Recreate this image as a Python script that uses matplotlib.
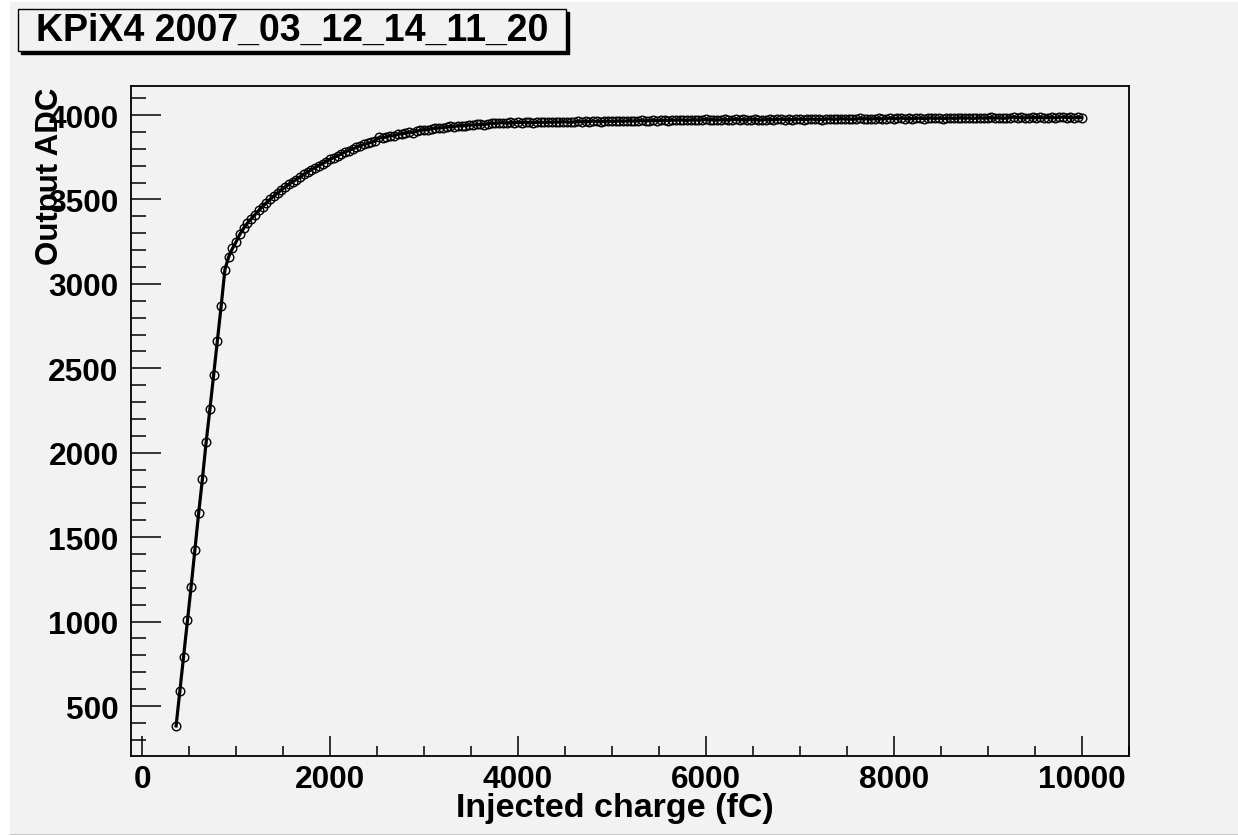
import numpy as np
import matplotlib
matplotlib.use('Agg')
import matplotlib.pyplot as plt
from matplotlib.patches import Rectangle
from matplotlib.ticker import MultipleLocator

plt.rcParams['font.family'] = ['Liberation Sans', 'DejaVu Sans']
plt.rcParams['font.weight'] = 'bold'

W, H = 1238, 837

# injected charge sweep (fC): 360 .. 10000 in 40 fC steps
charge_start, charge_stop, charge_step = 360, 10000, 40

# output ADC
adc_rise = [382, 589, 793, 1008, 1207, 1426, 1641, 1843, 2063, 2258,
            2460, 2660, 2870]
adc_knee = [3085, 3160, 3210, 3250, 3295, 3330, 3360, 3385, 3410, 3435,
            3458, 3480, 3500, 3520, 3538, 3556, 3574, 3590, 3604, 3618,
            3633, 3648, 3662, 3676, 3688, 3700, 3712, 3724, 3738, 3748,
            3758, 3770, 3781, 3790, 3800, 3808, 3818, 3826, 3832, 3840,
            3846, 3868, 3864, 3872, 3878, 3876, 3886, 3890, 3893, 3900,
            3896, 3905, 3910, 3914, 3912, 3920, 3922, 3925, 3924, 3930,
            3933, 3932, 3936, 3938, 3937, 3942, 3940, 3944, 3946, 3943,
            3948, 3953, 3951, 3954]
adc_plateau = [3955, 3952, 3956, 3954, 3957, 3955, 3958, 3956, 3954, 3957,
               3958, 3956, 3959, 3957, 3960, 3958, 3961, 3959, 3957, 3960,
               3962, 3960, 3963, 3961, 3964, 3962, 3960, 3963, 3965, 3962,
               3964, 3966, 3963, 3965, 3967, 3964, 3966, 3968, 3965, 3967,
               3969, 3966, 3968, 3970, 3967, 3971, 3969, 3972, 3970, 3968,
               3971, 3973, 3970, 3972, 3974, 3971, 3973, 3970, 3972, 3974,
               3971, 3973, 3975, 3972, 3974, 3971, 3973, 3975, 3972, 3970,
               3973, 3975, 3972, 3974, 3976, 3973, 3975, 3972, 3974, 3976,
               3973, 3975, 3977, 3974, 3976, 3973, 3975, 3978, 3975, 3977,
               3979, 3976, 3978, 3975, 3977, 3980, 3977, 3979, 3976, 3978,
               3980, 3977, 3979, 3982, 3978, 3980, 3983, 3979, 3981, 3978,
               3980, 3982, 3979, 3981, 3984, 3980, 3982, 3979, 3981, 3983,
               3980, 3982, 3985, 3981, 3983, 3980, 3982, 3984, 3981, 3983,
               3986, 3982, 3984, 3981, 3983, 3985, 3988, 3984, 3986, 3983,
               3985, 3987, 3984, 3986, 3983, 3985, 3987, 3984, 3986, 3988,
               3985, 3987, 3984, 3986, 3985]

charge = np.arange(charge_start, charge_stop + 1, charge_step)
adc = np.array(adc_rise + adc_knee + adc_plateau)

title_text = 'KPiX4 2007_03_12_14_11_20'
xlabel_text = 'Injected charge (fC)'
ylabel_text = 'Output ADC'

bg = '#f2f2f2'

fig = plt.figure(figsize=(W / 100, H / 100), dpi=100, facecolor='white')

# canvas background (ROOT pad)
fig.patches.append(Rectangle((10 / W, 1 - 835 / H), 1 - 10 / W, (835 - 3) / H,
                             transform=fig.transFigure, facecolor=bg,
                             edgecolor='none', zorder=-10))
fig.patches.append(Rectangle((10 / W, 1 - 836 / H), 1 - 10 / W, 1.5 / H,
                             transform=fig.transFigure, facecolor='#c8c8c8',
                             edgecolor='none', zorder=-9))

ax = fig.add_axes([131 / W, 1 - 757 / H, (1129 - 131) / W, (757 - 87) / H])
ax.set_facecolor(bg)

ax.plot(charge, adc, color='black', lw=2.3, marker='o', ms=6.2, mfc='none',
        mec='black', mew=1.0)

ax.set_xlim(-120, 10505)
ax.set_ylim(204, 4172)

ax.xaxis.set_major_locator(MultipleLocator(2000))
ax.xaxis.set_minor_locator(MultipleLocator(500))
ax.yaxis.set_major_locator(MultipleLocator(500))
ax.yaxis.set_minor_locator(MultipleLocator(100))

ax.tick_params(axis='both', which='both', direction='in', width=1.1,
               labelsize=22.8, top=False, right=False)
ax.tick_params(axis='y', which='major', length=21.6, pad=9)
ax.tick_params(axis='y', which='minor', length=10.8)
ax.tick_params(axis='x', which='major', length=14.4, pad=6)
ax.tick_params(axis='x', which='minor', length=7.2)
for lab in ax.get_xticklabels() + ax.get_yticklabels():
    lab.set_fontweight('bold')

for s in ax.spines.values():
    s.set_linewidth(1.3)

# axis titles
fig.text(615 / W, 1 - 809 / H, xlabel_text, fontsize=24.5, fontweight='bold',
         ha='center', va='center')
fig.text(50 / W, 1 - 88 / H, ylabel_text, fontsize=22.5, fontweight='bold',
         rotation=90, ha='center', va='top')

# title box with shadow
bx0, by0, bx1, by1 = 18, 10, 566, 52
fig.patches.append(Rectangle(((bx0 + 3) / W, 1 - (by1 + 3) / H),
                             (bx1 - bx0) / W, (by1 - by0) / H,
                             transform=fig.transFigure, facecolor='black',
                             edgecolor='black', zorder=1))
fig.patches.append(Rectangle((bx0 / W, 1 - by1 / H),
                             (bx1 - bx0) / W, (by1 - by0) / H,
                             transform=fig.transFigure, facecolor=bg,
                             edgecolor='black', lw=1.0, zorder=2))
fig.text((bx0 + bx1) / 2 / W, 1 - 31 / H, title_text, fontsize=27,
         fontweight='bold', ha='center', va='center', zorder=3)

fig.savefig('out.png', dpi=100, facecolor=fig.get_facecolor())
